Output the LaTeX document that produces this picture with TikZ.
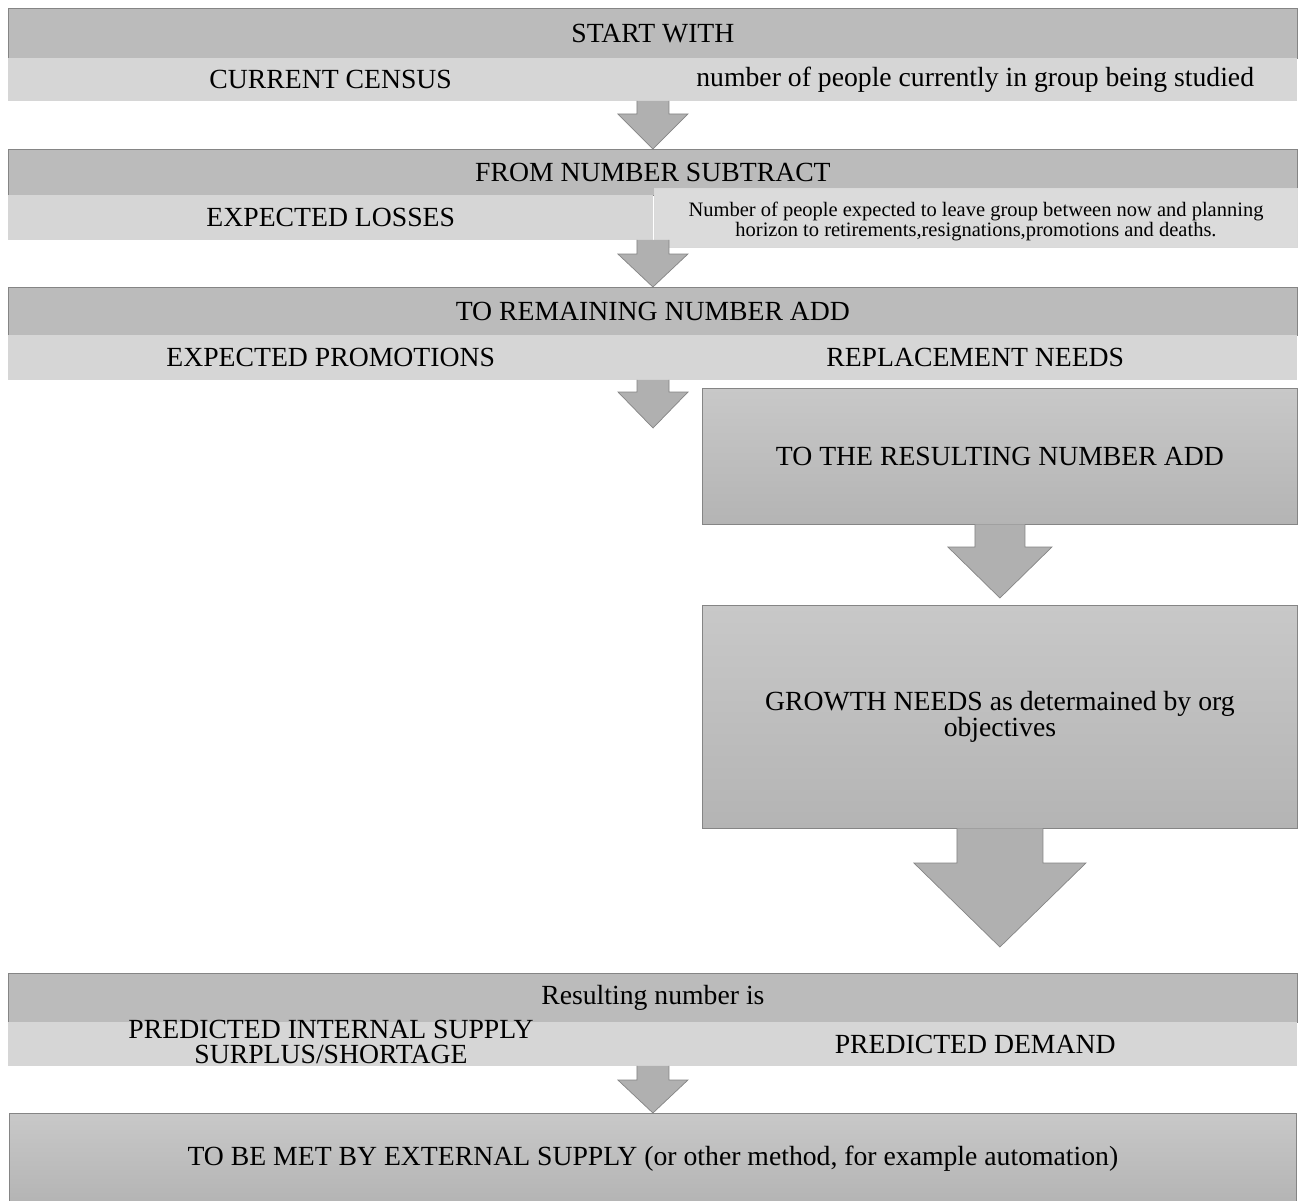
\documentclass[tikz,border=0pt]{standalone}
\usepackage{fontspec}
\setmainfont{Liberation Serif}
\usetikzlibrary{calc}

\definecolor{hdrgray}{HTML}{BBBBBB}
\definecolor{subgray}{HTML}{D6D6D6}
\definecolor{notegray}{HTML}{DBDBDB}
\definecolor{boxtop}{HTML}{C8C8C8}
\definecolor{boxbot}{HTML}{B4B4B4}
\definecolor{arrgray}{HTML}{B0B0B0}
\definecolor{edgegray}{HTML}{858585}

\newcommand{\bigfont}{\fontsize{27.7}{25}\selectfont}
\newcommand{\smallfont}{\fontsize{20.5}{20}\selectfont}

% block arrow: shaft starts at #1, tip at #2; #3 half shaft, #4 half head, #5 head length
\newcommand{\flowarrow}[5]{%
  \filldraw[flowarr] let \p1=(#1), \p2=(#2) in
    (\x2-#3pt,\y1+0.5pt) -- (\x2-#3pt,\y2+#5pt) -- (\x2-#4pt,\y2+#5pt) -- (\x2,\y2)
    -- (\x2+#4pt,\y2+#5pt) -- (\x2+#3pt,\y2+#5pt) -- (\x2+#3pt,\y1+0.5pt);
}

\begin{document}
\begin{tikzpicture}[x=1pt,y=-1pt]
    \tikzset{hdr/.style={draw=edgegray,line width=0.8pt,fill=hdrgray,anchor=north west,
        inner sep=0pt,font=\bigfont,minimum width=1289pt}}
    \tikzset{sub/.style={fill=subgray,anchor=north west,inner sep=0pt,font=\bigfont}}
    \tikzset{bigbox/.style={draw=edgegray,line width=0.8pt,top color=boxtop,bottom color=boxbot,
        anchor=north west,inner sep=0pt,font=\bigfont,align=center}}
    \tikzset{flowarr/.style={fill=arrgray,draw=edgegray,line width=0.7pt,line join=miter}}
    \useasboundingbox (0,0) rectangle (1300,1201);
    \fill[white] (0,0) rectangle (1300,1201);

    % first block
    \node[hdr,minimum height=50pt] (startw) at (8,8) {START WITH};
    \node[sub,minimum width=645pt,minimum height=43pt] (census) at (8,58) {CURRENT CENSUS};
    \node[sub,minimum width=644pt,minimum height=43pt] (censusnote) at (653,58)
        {number of people currently in group being studied};

    % second block
    \node[hdr,minimum height=46pt] (subtract) at (8,149) {FROM NUMBER SUBTRACT};
    \node[sub,minimum width=645pt,minimum height=45pt] (losses) at (8,195) {EXPECTED LOSSES};
    \node[sub,fill=notegray,draw=white!85!black,line width=0.6pt,minimum width=643pt,
        minimum height=59pt] (lossnote) at (654,188) {};
    \node[font=\smallfont,align=center,inner sep=0pt] (lossnotetxt) at (976,221)
        {Number of people expected to leave group between now and planning\\
         horizon to retirements,resignations,promotions and deaths.};

    % third block
    \node[hdr,minimum height=48pt] (remain) at (8,287) {TO REMAINING NUMBER ADD};
    \node[sub,minimum width=645pt,minimum height=45pt] (promo) at (8,335) {EXPECTED PROMOTIONS};
    \node[sub,minimum width=644pt,minimum height=45pt] (replace) at (653,335) {REPLACEMENT NEEDS};

    % right column
    \node[bigbox,minimum width=595pt,minimum height=136pt] (resadd) at (702,388)
        {TO THE RESULTING NUMBER ADD};
    \node[bigbox,minimum width=595pt,minimum height=223pt] (growth) at (702,605)
        {GROWTH NEEDS as determained by org\\objectives};

    % last blocks
    \node[hdr,minimum height=49pt] (resnum) at (8,973) {Resulting number is};
    \node[sub,minimum width=645pt,minimum height=44pt] (supply) at (8,1022) {};
    \node[font=\bigfont,align=center,inner sep=0pt] (supplytxt) at (331,1042)
        {PREDICTED INTERNAL SUPPLY\\SURPLUS/SHORTAGE};
    \node[sub,minimum width=644pt,minimum height=44pt] (demand) at (653,1022) {PREDICTED DEMAND};
    \node[bigbox,minimum width=1287pt,minimum height=90pt] (external) at (9,1113)
        {TO BE MET BY EXTERNAL SUPPLY (or other method, for example automation)};

    \coordinate (tipC) at (653,428);
    \coordinate (tipD) at ($(growth.north)+(0,-7)$);
    \coordinate (tipE) at ($(growth.south |- resnum.north west)+(0,-26)$);

    % arrows
    \flowarrow{census.south east}{subtract.north}{16}{35}{35}
    \flowarrow{losses.south east}{remain.north}{16}{35}{33}
    \flowarrow{promo.south east}{tipC}{16}{35}{36}
    \flowarrow{resadd.south}{tipD}{25}{52}{51}
    \flowarrow{growth.south}{tipE}{43}{86}{84}
    \flowarrow{supply.south east}{external.north}{16}{35}{33}
\end{tikzpicture}
\end{document}
